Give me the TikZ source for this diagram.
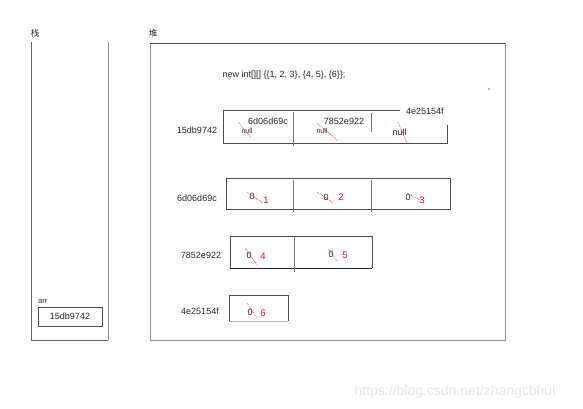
\documentclass[tikz,border=0pt]{standalone}
\usepackage{fontspec}
\setmainfont{Liberation Sans}
\newfontfamily\cjk{Noto Sans CJK SC}
\begin{document}
\begin{tikzpicture}[x=1pt,y=-1pt,
  lbl/.style={font=\fontsize{9}{10}\selectfont, inner sep=0pt, text=black!85},
  rednum/.style={font=\fontsize{9.5}{10}\selectfont, inner sep=0pt, text=red!80!magenta},
  redmark/.style={red, densely dotted, line width=0.6pt},
  boxline/.style={draw=black!70, line width=0.7pt},
  divline/.style={draw=black!55, line width=0.6pt},
  frame/.style={draw=black!45, line width=0.6pt}]
\useasboundingbox (0,0) rectangle (583,408);
\fill[white] (0,0) rectangle (583,408);

% titles
\node[lbl, font=\cjk\fontsize{8.5}{10}\selectfont] (zhan) at (35,33) {栈};
\node[lbl, font=\cjk\fontsize{8.5}{10}\selectfont] (dui) at (153,33) {堆};

% stack frame
\draw[frame, draw=black!60] (31,42) -- (31,340) -- (108,340);
\draw[frame] (108,42) -- (108,340);
% heap frame
\draw[frame] (150,340) -- (150,43);
\draw[boxline] (150,43) -- (505,43);
\draw[frame] (505,43) -- (505,340) -- (150,340);

\node[lbl] (code) at (284,75) {new int[][] \{\{1, 2, 3\}, \{4, 5\}, \{6\}\};};
\fill[black!60] (489,89) circle (0.8);

% arr
\node[lbl, anchor=west, font=\fontsize{7.5}{8}\selectfont] (arrl) at (38,302) {arr};
\node[boxline, minimum width=64, minimum height=19, inner sep=0pt, font=\fontsize{9}{10}\selectfont, text=black!85] (arr) at (70,316.5) {15db9742};

% array 1 (outer)
\node[lbl] (a1) at (197,130) {15db9742};
\draw[boxline] (400,110) -- (223,110) -- (223,143) -- (447,143) -- (447,125);
\draw[divline] (293,112) -- (293,146);
\draw[divline] (371,113) -- (371,132);
\node[lbl, anchor=west] (r3) at (406,111) {4e25154f};
\node[lbl] (r1) at (268,121) {6d06d69c};
\node[lbl] (r2) at (344,121) {7852e922};
\node[lbl, font=\fontsize{7}{8}\selectfont] (n1) at (247,131) {null};
\node[lbl, font=\fontsize{7}{8}\selectfont] (n2) at (322,131) {null};
\node[lbl] (n3) at (399.5,132) {null};
\draw[redmark] (238,122) -- (251,138);
\draw[redmark] (317,123) -- (338,141);
\draw[redmark] (398,122) -- (407,143);

% array 2
\node[lbl] (a2) at (197,198) {6d06d69c};
\draw[boxline] (226,178) rectangle (450,209);
\draw[divline] (293,180) -- (293,212);
\draw[divline] (371,180) -- (371,212);
\node[lbl] (z1) at (252,196) {0};
\node[rednum] (v1) at (266,200) {1};
\draw[redmark] (247,192) -- (263,203);
\node[lbl] (z2) at (326,197) {0};
\node[rednum] (v2) at (341,197) {2};
\draw[redmark] (317,192) -- (333,203);
\node[lbl] (z3) at (408,197) {0};
\node[rednum] (v3) at (422,200) {3};
\draw[redmark] (407,193) -- (420,200);

% array 3
\node[lbl] (a3) at (201,255) {7852e922};
\draw[boxline] (230,236) -- (372,236) -- (372,268);
\draw[boxline, draw=black!85] (230,268) -- (372,268);
\draw[boxline] (230,236) -- (230,268);
\draw[divline] (294,236) -- (294,272);
\node[lbl] (z4) at (249,255) {0};
\node[rednum] (v4) at (263,256) {4};
\draw[redmark] (245,248) -- (257,265);
\node[lbl] (z5) at (331,254) {0};
\node[rednum] (v5) at (345,255) {5};
\draw[redmark] (328,249) -- (338,262);

% array 4
\node[lbl] (a4) at (200,311) {4e25154f};
\draw[boxline] (229,321) -- (229,295) -- (288,295) -- (288,321);
\draw[draw=black!30, line width=0.6pt] (229,321) -- (288,321);
\node[lbl] (z6) at (250,312) {0};
\node[rednum] (v6) at (263,313) {6};
\draw[redmark] (247,303) -- (257,318);

% watermark
\node[font=\fontsize{14}{16}\selectfont, text=black!10, inner sep=0pt] (wm) at (455,392) {https://blog.csdn.net/zhangcbhui};
\end{tikzpicture}
\end{document}
